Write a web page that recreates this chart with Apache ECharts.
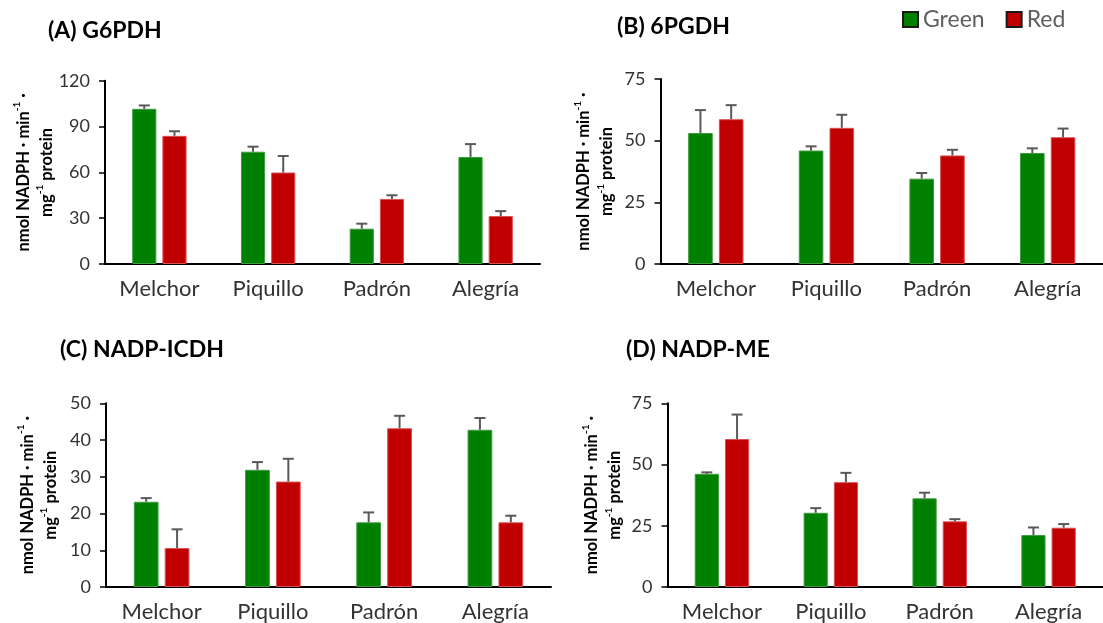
<!DOCTYPE html>
<html>
<head>
<meta charset="utf-8">
<script src="https://cdn.jsdelivr.net/npm/echarts@6/dist/echarts.min.js"></script>
<style>
  html, body { margin: 0; padding: 0; background: #fff; }
  #chart { width: 1103px; height: 623px; }
</style>
</head>
<body>
<div id="chart"></div>
<script>
// Pepper cultivars
const categories = ['Melchor', 'Piquillo', 'Padrón', 'Alegría'];

// (A) G6PDH activity, mean and SD
const g6pdhGreen = [101.6, 73.5, 23.1, 70.1];
const g6pdhGreenSd = [2.2, 3.3, 3.3, 8.4];
const g6pdhRed = [83.9, 59.9, 42.6, 31.4];
const g6pdhRedSd = [3.0, 10.8, 2.4, 3.2];

// (B) 6PGDH activity
const pgdhGreen = [53.1, 46.0, 34.6, 45.0];
const pgdhGreenSd = [9.3, 1.7, 2.3, 1.9];
const pgdhRed = [58.7, 55.2, 44.0, 51.4];
const pgdhRedSd = [5.7, 5.3, 2.3, 3.5];

// (C) NADP-ICDH activity
const icdhGreen = [23.2, 31.9, 17.6, 42.8];
const icdhGreenSd = [1.0, 2.1, 2.7, 3.2];
const icdhRed = [10.6, 28.7, 43.2, 17.6];
const icdhRedSd = [5.1, 6.2, 3.4, 1.8];

// (D) NADP-ME activity
const meGreen = [46.2, 30.3, 36.2, 21.2];
const meGreenSd = [0.6, 1.9, 2.3, 3.1];
const meRed = [60.4, 42.8, 26.8, 24.2];
const meRedSd = [10.0, 3.8, 0.9, 1.5];

// y-axis scales: [max, interval]
const g6pdhScale = [120, 30];
const pgdhScale = [75, 25];
const icdhScale = [50, 10];
const meScale = [75, 25];

const panelTitles = ['(A) G6PDH', '(B) 6PGDH', '(C) NADP-ICDH', '(D) NADP-ME'];
const seriesNames = ['Green', 'Red'];

const FONT = 'Lato, "Open Sans", sans-serif';
const GREEN = '#008000';
const RED = '#C00000';
const CAT_GAP = 0.5;
const BAR_GAP = 0.25;

const panels = [
  { title: panelTitles[0], green: g6pdhGreen, greenSd: g6pdhGreenSd, red: g6pdhRed, redSd: g6pdhRedSd, scale: g6pdhScale,
    grid: { left: 105, top: 80.7, width: 435, height: 183.3 }, titlePos: { left: 48, top: 19 }, nameGap: 44 },
  { title: panelTitles[1], green: pgdhGreen, greenSd: pgdhGreenSd, red: pgdhRed, redSd: pgdhRedSd, scale: pgdhScale,
    grid: { left: 660.5, top: 79, width: 445.5, height: 185 }, titlePos: { left: 617, top: 15 }, nameGap: 42 },
  { title: panelTitles[2], green: icdhGreen, greenSd: icdhGreenSd, red: icdhRed, redSd: icdhRedSd, scale: icdhScale,
    grid: { left: 106, top: 403.3, width: 445, height: 185 }, titlePos: { left: 60, top: 338 }, nameGap: 44 },
  { title: panelTitles[3], green: meGreen, greenSd: meGreenSd, red: meRed, redSd: meRedSd, scale: meScale,
    grid: { left: 667.5, top: 403.3, width: 445, height: 185.3 }, titlePos: { left: 626, top: 338 }, nameGap: 41 }
];

// Upward-only error bars, placed over the matching bar slot of each category
function errorBars(slot) {
  return function (params, api) {
    const i = api.value(0);
    const v = api.value(1);
    const e = api.value(2);
    const band = api.size([1, 0])[0];
    const w = band * (1 - CAT_GAP) / (2 + BAR_GAP);
    const dx = (slot === 0 ? -1 : 1) * w * (1 + BAR_GAP) / 2;
    const p0 = api.coord([i, v]);
    const p1 = api.coord([i, v + e]);
    const x = p0[0] + dx;
    const style = { stroke: '#595959', lineWidth: 2 };
    return {
      type: 'group',
      children: [
        { type: 'line', shape: { x1: x, y1: p0[1], x2: x, y2: p1[1] }, style: style },
        { type: 'line', shape: { x1: x - 5.5, y1: p1[1], x2: x + 5.5, y2: p1[1] }, style: style }
      ]
    };
  };
}

const yName = '{a|nmol NADPH · min}{s|-1}{a| ·}\n{a|mg}{s|-1}{a| protein}';

const option = {
  backgroundColor: '#fff',
  animation: false,
  textStyle: { fontFamily: FONT },
  title: panels.map(p => ({
    text: p.title,
    left: p.titlePos.left,
    top: p.titlePos.top,
    padding: 0,
    textStyle: { fontFamily: FONT, fontWeight: 'bold', fontSize: 23, color: '#000' }
  })),
  legend: {
    data: seriesNames,
    left: 902,
    top: 8,
    padding: 0,
    icon: 'rect',
    itemWidth: 15,
    itemHeight: 15,
    itemGap: 21,
    itemStyle: { borderColor: '#1a1a1a', borderWidth: 2 },
    textStyle: { fontFamily: FONT, fontSize: 23, color: '#5f5f5f' }
  },
  grid: panels.map(p => Object.assign({ containLabel: false }, p.grid)),
  xAxis: panels.map((p, k) => ({
    type: 'category',
    gridIndex: k,
    data: categories,
    axisTick: { show: false },
    axisLine: { lineStyle: { color: '#000', width: 2 } },
    axisLabel: { fontFamily: FONT, fontSize: 22, color: '#333', margin: 14, interval: 0 }
  })),
  yAxis: panels.map((p, k) => ({
    type: 'value',
    gridIndex: k,
    min: 0,
    max: p.scale[0],
    interval: p.scale[1],
    splitLine: { show: false },
    axisLine: { show: true, lineStyle: { color: '#000', width: 2 } },
    axisTick: { show: true, inside: false, length: 6, lineStyle: { color: '#000', width: 1.5 } },
    axisLabel: { fontFamily: FONT, fontSize: 18, color: '#333', margin: 15 },
    name: yName,
    nameLocation: 'middle',
    nameRotate: 90,
    nameGap: p.nameGap,
    nameTextStyle: {
      rich: {
        a: { fontFamily: FONT, fontWeight: 'bold', fontSize: 16.5, color: '#000', lineHeight: 23 },
        s: { fontFamily: FONT, fontWeight: 'bold', fontSize: 10, color: '#000', lineHeight: 17, verticalAlign: 'top' }
      }
    }
  })),
  series: []
};

panels.forEach((p, k) => {
  const groups = [
    { name: seriesNames[0], color: GREEN, border: '#3f9a3f', vals: p.green, sd: p.greenSd },
    { name: seriesNames[1], color: RED, border: '#d95050', vals: p.red, sd: p.redSd }
  ];
  groups.forEach(g => {
    option.series.push({
      type: 'bar',
      name: g.name,
      xAxisIndex: k,
      yAxisIndex: k,
      data: g.vals,
      barCategoryGap: (CAT_GAP * 100) + '%',
      barGap: (BAR_GAP * 100) + '%',
      itemStyle: { color: g.color, borderColor: g.border, borderWidth: 1 },
      emphasis: { disabled: true }
    });
  });
  groups.forEach((g, slot) => {
    option.series.push({
      type: 'custom',
      xAxisIndex: k,
      yAxisIndex: k,
      z: 5,
      silent: true,
      encode: { x: 0, y: 1 },
      data: categories.map((c, i) => [i, g.vals[i], g.sd[i]]),
      renderItem: errorBars(slot)
    });
  });
});

const chart = echarts.init(document.getElementById('chart'), null, { renderer: 'canvas' });
chart.setOption(option);
</script>
</body>
</html>
